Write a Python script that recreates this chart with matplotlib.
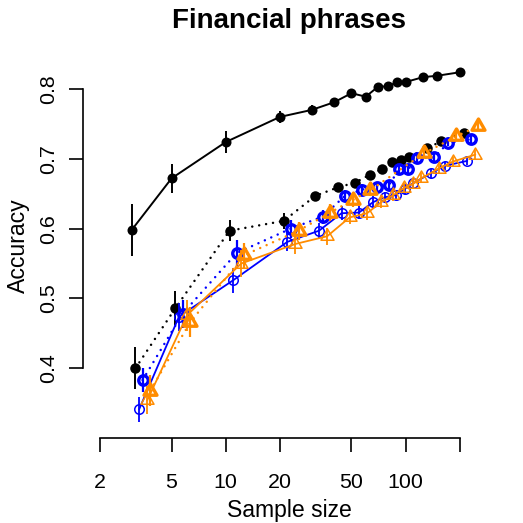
import matplotlib
matplotlib.use("Agg")
import matplotlib.pyplot as plt
from matplotlib.path import Path
from matplotlib.markers import MarkerStyle
from matplotlib.ticker import NullLocator
import numpy as np

plt.rcParams['font.family'] = ['Liberation Sans', 'DejaVu Sans']

# ---------------- data ----------------
sample_sizes = [3, 5, 10, 20, 30, 40, 50, 60, 70, 80, 90, 100, 125, 150, 200]
orange_thick_sizes = [3, 5, 10, 20, 30, 40, 50, 100, 150, 200]

top_black = [0.598, 0.672, 0.724, 0.760, 0.770, 0.781, 0.794, 0.789, 0.803, 0.804,
             0.810, 0.810, 0.817, 0.819, 0.824]
top_black_err = [0.037, 0.021, 0.016, 0.009, 0.007, 0.005, 0.004, 0.004, 0.004, 0.003,
                 0.003, 0.003, 0.003, 0.003, 0.003]

dotted_black = [0.400, 0.486, 0.597, 0.611, 0.647, 0.659, 0.666, 0.677, 0.685, 0.695,
                0.698, 0.703, 0.715, 0.725, 0.737]
dotted_black_err = [0.030, 0.024, 0.015, 0.012, 0.006, 0.005, 0.005, 0.004, 0.004, 0.004,
                    0.004, 0.004, 0.003, 0.003, 0.003]

blue_thick = [0.383, 0.478, 0.565, 0.600, 0.617, 0.647, 0.656, 0.660, 0.662, 0.685,
              0.685, 0.701, 0.702, 0.723, 0.728]
blue_thick_err = [0.017, 0.020, 0.018, 0.013, 0.010, 0.009, 0.008, 0.007, 0.007, 0.006,
                  0.006, 0.006, 0.005, 0.005, 0.005]

blue_thin = [0.341, 0.474, 0.526, 0.581, 0.597, 0.622, 0.623, 0.638, 0.645, 0.648,
             0.657, 0.665, 0.679, 0.690, 0.697]
blue_thin_err = [0.018, 0.020, 0.018, 0.013, 0.011, 0.010, 0.009, 0.008, 0.008, 0.007,
                 0.007, 0.007, 0.006, 0.006, 0.006]

orange_thin = [0.354, 0.476, 0.550, 0.578, 0.589, 0.616, 0.622, 0.638, 0.648, 0.658,
               0.664, 0.672, 0.686, 0.696, 0.706]
orange_thin_err = [0.020, 0.022, 0.020, 0.014, 0.012, 0.010, 0.009, 0.008, 0.008, 0.007,
                   0.007, 0.007, 0.006, 0.006, 0.006]

orange_thick = [0.368, 0.466, 0.562, 0.597, 0.623, 0.641, 0.655, 0.708, 0.732, 0.747]
orange_thick_err = [0.022, 0.021, 0.018, 0.013, 0.012, 0.010, 0.009, 0.007, 0.006, 0.006]

x_ticks = [2, 5, 10, 20, 50, 100, 200]
x_tick_labels = ['2', '5', '10', '20', '50', '100', '']
y_ticks = [0.4, 0.5, 0.6, 0.7, 0.8]
y_tick_labels = ['0.4', '0.5', '0.6', '0.7', '0.8']

title = 'Financial phrases'
xlabel = 'Sample size'
ylabel = 'Accuracy'

# ---------------- style ----------------
PX = 72 / 100.0  # points per pixel
BLUE = '#0000FF'
ORANGE = '#FF8C00'
DOTTED = (0, (0.01, 2.8))

tri_path = Path([(0, 1), (-0.866, -0.5), (0.866, -0.5), (0, 1)],
                [Path.MOVETO, Path.LINETO, Path.LINETO, Path.CLOSEPOLY])
TRI = MarkerStyle(tri_path, joinstyle='round')

fig = plt.figure(figsize=(5.23, 5.23), dpi=100)
ax = fig.add_axes([83 / 523, 85 / 523, 413 / 523, 378 / 523])
ax.set_xscale('log')
ax.set_xlim(1.609, 317.8)
ax.set_ylim(0.3, 0.84155)


def series(sizes, jitter, y, err, color, lw, ls, marker, ms, mfc, mew, elw, z):
    x = np.array(sizes, dtype=float) * jitter
    y = np.array(y)
    e = np.array(err)
    ax.vlines(x, y - e, y + e, colors=color, lw=elw, zorder=z)
    ax.plot(x, y, color=color, lw=lw, ls=ls, marker=marker, ms=ms,
            mfc=mfc, mec=color, mew=mew, zorder=z + 0.1,
            dash_capstyle='round', solid_capstyle='round')


series(sample_sizes, 1.00, top_black, top_black_err, 'black', 1.4, '-', 'o',
       10 * PX, 'black', 0, 1.4, 2)
series(sample_sizes, 1.05, dotted_black, dotted_black_err, 'black', 1.8, DOTTED, 'o',
       10.5 * PX, 'black', 0, 1.4, 3)
series(sample_sizes, 1.10, blue_thin, blue_thin_err, BLUE, 1.3, '-', 'o',
       9.5 * PX, 'none', 1.1, 1.3, 4)
series(sample_sizes, 1.15, blue_thick, blue_thick_err, BLUE, 1.8, DOTTED, 'o',
       9.5 * PX, 'none', 2.4, 1.6, 5)
series(sample_sizes, 1.22, orange_thin, orange_thin_err, ORANGE, 1.3, '-', TRI,
       15 * PX, 'none', 1.1, 1.3, 6)
series(orange_thick_sizes, 1.27, orange_thick, orange_thick_err, ORANGE, 1.8, DOTTED, TRI,
       15 * PX, 'none', 2.4, 1.6, 7)

# ---------------- axes ----------------
for s in ('top', 'right'):
    ax.spines[s].set_visible(False)
ax.spines['left'].set_bounds(0.4, 0.8)
ax.spines['bottom'].set_bounds(2, 200)
for s in ('left', 'bottom'):
    ax.spines[s].set_linewidth(1.2)

ax.xaxis.set_minor_locator(NullLocator())
ax.set_xticks(x_ticks)
ax.set_xticklabels(x_tick_labels)
ax.set_yticks(y_ticks)
ax.set_yticklabels(y_tick_labels, rotation=90, va='center')
ax.tick_params(axis='both', direction='out', length=14 * PX, width=1.2, labelsize=15.4)
ax.tick_params(axis='x', pad=15)
ax.tick_params(axis='y', pad=8)

fig.text(289.5 / 523, 1 - 28 / 523, title, ha='center', va='baseline',
         fontsize=20, fontweight='bold')
fig.text(289.5 / 523, 1 - 516.7 / 523, xlabel, ha='center', va='baseline', fontsize=16.6)
fig.text(6.7 / 523, 1 - 245.8 / 523, ylabel, rotation=90, ha='left', va='center',
         fontsize=16.6)

fig.savefig('out.png', dpi=100)
